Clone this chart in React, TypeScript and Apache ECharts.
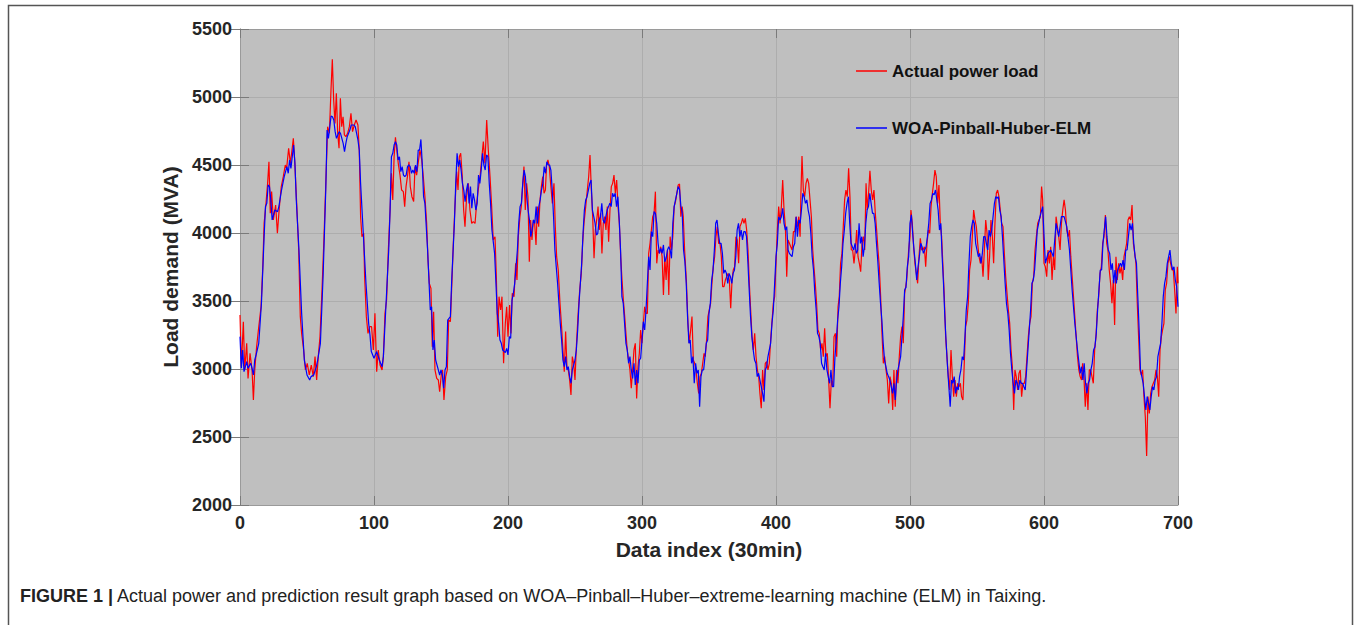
import React, { useEffect, useRef } from "react";
import * as echarts from "echarts";

// ---- data (index, MVA) ----
const actualLoad: [number, number][] = [
  [0,3397],[1,3017],[2.5,3348],[3.5,2993],[5,3189],[6,2931],[7.5,3115],[9,2993],[10,2772],[11,2993],[12.4,3164],[14,3311],[15.7,3458],[17,3752],[18,4071],[19.4,4218],[20.6,4365],[21.6,4524],[22.6,4145],[23.6,4304],[24.9,4096],[26.6,4206],[27.9,3998],[29.4,4194],[30.8,4341],[32.3,4414],[33.8,4500],[34.8,4475],[36.3,4623],[37.6,4512],[38.8,4610],[39.8,4696],[40.8,4537],[42.3,4218],[43.8,3875],[45,3385],[46,3262],[47.5,3140],[48.8,2993],[50.2,3042],[51.7,2956],[53.2,3029],[54.7,2944],[56,3091],[57.2,2919],[58.5,3103],[59.7,3238],[61.2,3581],[62.7,3973],[64.2,4414],[65.4,4782],[66.7,4733],[67.9,5051],[68.9,5277],[69.9,4978],[70.9,4806],[71.9,5027],[72.9,4733],[73.9,4623],[74.9,4990],[75.9,4782],[76.9,4855],[77.9,4721],[79,4708],[80.3,4733],[81.6,4782],[82.8,4880],[84,4745],[85.3,4794],[86.6,4831],[88,4794],[89,4610],[90,4120],[91,3973],[92.3,3998],[93,3679],[94.3,3385],[95.5,3262],[96.8,3311],
  [98.2,3311],[99.5,3140],[100.7,3409],[102,2980],[103.2,3140],[104.5,3029],[106,2993],[107,3091],[108.2,3409],[109.4,3507],[110.7,3875],[112,4169],[113,4439],[114,4243],[115,4561],[116,4703],[117,4610],[118.1,4512],[119.4,4426],[120.6,4316],[121.9,4304],[122.9,4194],[123.9,4341],[125.1,4426],[126.1,4524],[127.1,4341],[128.3,4267],[129.6,4231],[130.6,4488],[131.8,4426],[133.1,4524],[134.3,4610],[135.6,4537],[136.8,4414],[138,4267],[139.3,4071],[140.3,3801],[141.3,3630],[142.5,3593],[143.5,3164],[144.5,3421],[145.5,2993],[146.8,2931],[148,2919],[149,2833],[150.2,2956],[151.2,2993],[152.2,2772],[153.5,2944],[154.7,2993],[155.7,3360],[157,3348],[158.2,3654],[159.2,3924],[160.4,4194],[161.7,4451],[162.7,4316],[163.7,4561],[164.7,4586],[165.9,4414],[166.9,4169],[167.9,4047],[169.1,4267],[170.4,4365],[171.6,4169],[172.9,4071],[174.1,4084],[175.4,4071],[176.6,4218],[177.8,4316],[179.1,4414],[180.3,4537],[181.6,4672],[182.8,4512],[184.1,4831],[185.3,4610],[186.6,4414],[187.8,4194],[189,3949],[190.3,3973],[191.3,3679],[192.3,3238],[193.3,3532],[194.5,3434],[195.5,3532],[196.7,3042],
  [198,3336],[199,3458],[200,3238],[201.2,3471],[202.2,3262],[203.2,3556],[204.5,3532],[205.7,3777],[206.7,3654],[207.7,3973],[208.9,4120],[209.9,4194],[210.9,4341],[211.9,4488],[212.9,4169],[213.9,4365],[214.9,4267],[215.9,3789],[216.9,4096],[217.9,3949],[218.9,4096],[219.9,4071],[220.9,3912],[221.9,4194],[222.9,4047],[223.9,4243],[224.9,4341],[225.9,4414],[226.9,4292],[227.9,4316],[228.8,4500],[229.8,4537],[230.8,4488],[231.8,4365],[233.1,4218],[234.3,4365],[235.3,4047],[236.3,3826],[237.5,3728],[238.8,3483],[240,3311],[241,3140],[242,2980],[243,3275],[244,3017],[245,2993],[246,2919],[247,2809],[248,3091],[249,3042],[250,2919],[251,3164],[252.2,3385],[253.5,3581],[254.7,3703],[255.7,3924],[256.7,4071],[258,4194],[259.2,4316],[260.2,4414],[261.2,4574],[262.2,4316],[263.2,4120],[264.2,3814],[265.2,4022],[266.2,4096],[267.2,4194],[268.1,4022],[269.1,4145],[270.1,3850],[271.1,4071],[272.1,4120],[273.1,4022],[274.1,4194],[275.1,3936],[276.1,4169],[277.1,4341],[278.1,4365],[279.1,4426],[280.1,4292],[281.1,4390],[282.1,4194],[283.1,4071],[284.1,3826],[285.1,3654],[286.1,3507],[287.1,3385],[288,3262],[289,3140],[290,3066],[291,2993],[292,2858],[293,2993],[294,3140],[295,3189],[296,2784],[297,3017],
  [298,3115],[299,3287],[300,3189],[301,3336],[302,3458],[303,3409],[304,3409],[305,3850],[306,3924],[307,4022],[308,4120],[309,4145],[310,4304],[311,3777],[312,3875],[313,3850],[314,3899],[315,3826],[316,3544],[317,3826],[318,3654],[319,3875],[320,3544],[321,3973],[322,3875],[323,3973],[324,4194],[325,4231],[326,4292],[327,4353],[328,4360],[329,4120],[330,4194],[330.8,4120],[331.8,3875],[333.1,3654],[334.3,3336],[335.3,3189],[336.3,3287],[337.3,3385],[338.3,3066],[339.3,3042],[340.3,2993],[341.3,2895],[342.3,2821],[343.3,2944],[344.3,2968],[345.3,3042],[346.3,3115],[347.2,3091],[348.2,3213],[349.2,3385],[350.2,3434],[351.2,3483],[352.2,3630],[353.2,3752],[354.2,3826],[355.2,3973],[356.2,4047],[357.2,3924],[358.2,3924],[359.2,3826],[360.2,3605],[361.2,3605],[362.2,3654],[363.2,3679],[364.2,3703],[365.2,3654],[366.2,3446],[367.2,3654],[368.1,3728],[369.1,3752],[370.1,3973],[371.1,3949],[372.1,3777],[373.1,4047],[374.1,4071],[375.1,4108],[376.1,4071],[377.1,4108],[378.1,4022],[379.1,3875],[380.1,3630],[381.1,3434],[382.1,3238],[383.1,3140],[384.1,3262],[385.1,3091],[386.1,2993],[387.1,2944],[388,2821],[389,2711],[390,2993],[391,2846],[392,3042],[393,3054],[394,2993],[395,3042],[396,3213],
  [398,3483],[399,3532],[400,3777],[401,4022],[402,4194],[403,4071],[404,4194],[405,4390],[406,4169],[407,4047],[408,3679],[409,3949],[410,3924],[411,3899],[412,3875],[413,4010],[414,4010],[415,4120],[416,4047],[417,4120],[418,3973],[418.6,4292],[419.4,4566],[420.4,4316],[421.4,4267],[422.4,4365],[423.4,4402],[424.4,4365],[425.4,4243],[426.4,4120],[427.4,3875],[428.3,3752],[429.3,3630],[430.3,3483],[431.3,3287],[432.3,3262],[433.3,3140],[434.3,3189],[435.3,3091],[436.3,3299],[437.3,3091],[438.3,3115],[439.3,2919],[440.3,2711],[441.3,2919],[442.3,2870],[443.3,3238],[444.3,3262],[445.3,3091],[446.3,3458],[447.2,3532],[448.2,3777],[449.2,3850],[450.2,4047],[451.2,4243],[452.2,4316],[453.2,4267],[454.2,4475],[455.2,4267],[456.2,3875],[457.2,3875],[458.2,3777],[459.2,3875],[460.2,4022],[461.2,3826],[462.2,3777],[463.2,3716],[464.2,3924],[465.2,3973],[466.2,3875],[467.2,4365],[468.1,4169],[469.1,4292],[470.1,4458],[471.1,4316],[472.1,4243],[473.1,4316],[474.1,4145],[475.1,4022],[476.1,3875],[477.1,3752],[478.1,3532],[479.1,3262],[480.1,3042],[481.1,3091],[482.1,2993],[483.1,2919],[484.1,2747],[485.1,2944],[486.1,2895],[487.1,2699],[488,2993],[489,2723],[490,2993],[491,2895],[492,3091],[493,3238],[494,3311],[495,3189],[496,3556],
  [497.5,3650],[499,3875],[500,3973],[500.7,4169],[501.7,4071],[502.7,3899],[503.7,3777],[504.7,3703],[505.7,3630],[506.7,3826],[507.7,3961],[508.7,3875],[509.7,3875],[510.7,3899],[511.7,3752],[512.7,3924],[513.7,4022],[514.7,3998],[515.7,4194],[516.7,4292],[517.6,4365],[518.6,4463],[519.6,4414],[520.6,4218],[521.6,4353],[522.6,4071],[523.6,3973],[524.6,3752],[525.6,3532],[526.6,3238],[527.6,3091],[528.6,2944],[529.6,2846],[530.6,3140],[531.6,2944],[532.6,2797],[533.6,2919],[534.6,2797],[535.6,2895],[536.6,2870],[537.6,2895],[538.5,2797],[539.5,2772],[540.5,3042],[541.5,3311],[542.5,3360],[543.5,3483],[544.5,3728],[545.5,3801],[546.5,3973],[547.5,4169],[548.5,4096],[549.5,4047],[550.5,3924],[551.5,3826],[552.5,3777],[553.5,3826],[554.5,3679],[555.5,3875],[556.5,4096],[557.5,3998],[558.4,3654],[559.4,3826],[560.4,4096],[561.4,3985],[562.4,3777],[563.4,4071],[564.4,4292],[565.4,4316],[566.4,4267],[567.4,4169],[568.4,4071],[569.4,4047],[570.4,3850],[571.4,3679],[572.4,3556],[573.4,3434],[574.4,3336],[575.4,3140],[576.4,3017],[577.4,2699],[578.3,2993],[579.3,2944],[580.3,2846],[581.3,2968],[582.3,2993],[583.3,2797],[584.3,2895],[585.3,2895],[586.3,2944],[587.3,3091],[588.3,3238],[589.3,3336],[590.3,3385],[591.3,3630],[592.3,3679],[593.3,3875],[594.3,3973],[595.3,4071],[596.3,4096],
  [597.3,4120],[598.2,4341],[599,4243],[600,3777],[601,3752],[602,3679],[603,3875],[604,3777],[605,3899],[606,3654],[607,3826],[608,3728],[609,4120],[610,4047],[611,3973],[612,3875],[613,4071],[614,4169],[615,4243],[616,4169],[617,4022],[618,3973],[619,4022],[620,3826],[621,3679],[622,3532],[623,3385],[624,3238],[625,3091],[626,2993],[627,2944],[628,2919],[628.8,3042],[629.8,2944],[630.8,2723],[631.8,2895],[632.8,2699],[633.8,2993],[634.8,2993],[635.8,2944],[636.8,2895],[637.8,3140],[638.8,3238],[639.8,3434],[640.8,3532],[641.8,3703],[642.8,3752],[643.8,3924],[644.8,3973],[645.8,4133],[646.8,3924],[647.7,3875],[648.7,3728],[649.7,3630],[650.7,3483],[651.7,3654],[652.7,3323],[653.7,3826],[654.7,3654],[655.7,3777],[656.7,3703],[657.7,3752],[658.7,3654],[659.7,3826],[660.7,3875],[661.7,3924],[662.7,4096],[663.7,4120],[664.7,4096],[665.7,4206],[666.7,3924],[667.7,3850],[668.6,3777],[669.6,3483],[670.6,3238],[671.6,2993],[672.6,2956],[673.6,2993],[674.6,2797],[675.6,2650],[676.6,2360],[677.6,2797],[678.6,2674],[679.6,2821],[680.6,2870],[681.6,2895],[682.6,2919],[683.6,2993],[684.6,2944],[685.6,2797],[686.6,3140],[687.6,3238],[688.5,3287],[689.5,3336],[690.5,3581],[691.5,3630],[692.5,3777],[693.5,3826],[694.5,3777],[695.5,3728],[696.5,3728],[697.5,3581],[698.5,3409],[699.5,3752],[700,3630],
];

const predictedLoad: [number, number][] = [
  [0,3238],[1,3005],[2,3140],[3,2980],[5,3054],[6,3005],[8,3042],[9,3005],[10,2956],[11,3066],[12,3103],[14,3189],[16,3483],[18,3973],[19,4194],[20,4218],[21,4353],[22,4341],[23,4243],[24,4096],[26,4169],[28,4157],[29,4194],[31,4316],[33,4414],[35,4488],[36,4439],[37,4537],[38,4475],[39,4561],[40,4647],[41,4512],[42,4243],[44,3875],[46,3409],[48,3066],[50,2956],[52,2919],[53,2944],[55,2956],[57,3017],[58,3066],[60,3189],[62,3679],[64,4316],[65,4757],[66,4696],[67,4782],[68,4860],[69,4855],[70,4831],[71,4745],[72,4696],[73,4721],[74,4745],[75,4733],[77,4659],[78,4598],[79,4659],[80,4708],[82,4757],[83,4794],[85,4794],[86,4782],[88,4684],[89,4610],[90,4365],[92,3998],[94,3630],[96,3336],
  [97,3250],[98,3128],[100,3079],[102,3128],[104,3066],[106,3017],[107,3091],[109,3483],[111,3875],[112,4169],[113,4561],[114,4586],[115,4647],[116,4672],[117,4647],[118,4537],[119,4561],[120,4451],[121,4488],[122,4426],[123,4414],[124,4426],[125,4488],[126,4500],[127,4488],[128,4439],[129,4463],[130,4439],[131,4500],[132,4451],[133,4610],[134,4610],[135,4688],[136,4512],[137,4267],[138,4218],[140,3875],[142,3434],[143,3458],[144,3140],[145,3213],[146,3066],[148,2993],[149,2956],[150,2993],[151,2956],[152,2858],[153,2993],[154,3017],[155,3360],[157,3385],[158,3654],[160,4071],[161,4365],[162,4586],[163,4488],[164,4537],[165,4463],[166,4365],[167,4316],[168,4231],[169,4316],[170,4365],[171,4218],[172,4341],[173,4182],[174,4292],[175,4243],[176,4169],[177,4218],[178,4426],[179,4365],[180,4463],[181,4586],[182,4500],[183,4463],[184,4574],[185,4561],[186,4365],[187,4218],[188,4022],[190,3850],[191,3630],[192,3409],[193,3336],[194,3213],[195,3189],[196,3140],
  [198,3120],[199,3152],[200,3103],[201,3238],[202,3226],[203,3507],[204,3556],[205,3630],[206,3752],[207,3875],[208,4071],[209,4194],[210,4218],[211,4365],[212,4463],[213,4414],[214,4267],[215,4169],[216,4096],[217,3973],[218,4022],[219,4096],[220,4071],[221,4194],[222,4071],[223,4194],[224,4243],[225,4316],[226,4365],[227,4488],[228,4439],[229,4524],[230,4500],[231,4500],[232,4463],[233,4316],[234,4120],[235,3875],[236,3752],[237,3630],[238,3483],[239,3336],[240,3213],[241,3066],[242,3017],[243,3091],[244,2993],[245,3017],[246,2944],[247,2895],[248,2993],[249,3029],[250,3066],[251,3140],[252,3287],[253,3483],[254,3630],[255,3777],[256,3998],[257,4169],[258,4243],[259,4267],[260,4316],[261,4365],[262,4390],[263,4169],[264,4120],[265,4071],[266,3985],[267,3998],[268,4096],[269,4120],[270,4218],[271,4096],[272,4071],[273,4120],[274,4169],[275,4194],[276,4218],[277,4194],[278,4292],[279,4267],[280,4292],[281,4194],[282,4267],[283,4096],[284,3875],[285,3532],[286,3483],[287,3336],[288,3189],[289,3140],[290,3042],[291,3091],[292,2993],[293,2931],[294,3042],[295,2883],[296,2993],
  [297,2895],[298,3066],[299,3079],[300,3213],[301,3348],[302,3287],[303,3434],[304,3630],[305,3826],[306,3728],[307,4010],[308,3973],[309,4157],[310,4145],[311,4071],[312,3924],[313,3850],[314,3887],[315,3850],[316,3912],[317,3789],[318,3814],[319,3875],[320,3899],[321,3875],[322,3814],[323,4071],[324,4194],[325,4243],[326,4292],[327,4341],[328,4320],[329,4200],[330,4150],[331,3875],[332,3789],[333,3630],[334,3385],[335,3189],[336,3213],[337,3042],[338,3091],[339,2895],[340,3042],[341,2968],[342,2993],[343,2723],[344,2944],[345,2993],[346,2993],[347,3091],[348,3189],[349,3213],[350,3409],[351,3483],[352,3654],[353,3728],[354,3875],[355,4071],[356,4096],[357,3998],[358,3924],[359,3924],[360,3850],[361,3703],[362,3728],[363,3703],[364,3630],[365,3703],[366,3679],[367,3630],[368,3703],[369,3728],[370,3826],[371,4022],[372,4071],[373,3973],[374,4022],[375,3949],[376,4010],[377,4010],[378,3973],[379,3789],[380,3581],[381,3385],[382,3238],[383,3140],[384,3066],[385,3042],[386,2944],[387,2968],[388,2919],[389,2870],[390,2821],[391,2760],[392,2993],[393,3017],[394,3091],[395,3140],[396,3189],[397,3336],
  [398,3434],[399,3630],[400,3826],[401,3924],[402,4120],[403,4096],[404,4120],[405,4182],[406,4071],[407,4022],[408,4047],[409,3875],[410,3850],[411,3838],[412,3826],[413,3899],[414,3924],[415,4120],[416,3973],[417,4096],[418,4071],[419,4169],[420,4292],[421,4267],[422,4218],[423,4243],[424,4169],[425,4120],[426,3998],[427,3826],[428,3728],[429,3556],[430,3434],[431,3262],[432,3238],[433,3189],[434,3042],[435,3017],[436,2993],[437,3115],[438,2993],[439,2944],[440,2895],[441,2993],[442,2870],[443,2870],[444,3091],[445,3213],[446,3360],[447,3458],[448,3630],[449,3752],[450,3924],[451,4022],[452,4145],[453,4218],[454,4267],[455,4071],[456,3924],[457,3899],[458,3875],[459,3924],[460,3850],[461,3875],[462,4071],[463,3924],[464,3973],[465,3826],[466,3899],[467,4071],[468,4169],[469,4194],[470,4292],[471,4218],[472,4145],[473,4145],[474,4071],[475,3924],[476,3789],[477,3630],[478,3483],[479,3360],[480,3189],[481,3066],[482,3017],[483,2968],[484,2944],[485,2919],[486,2870],[487,2821],[488,2895],[489,2772],[490,2919],[491,2993],[492,3042],[493,3091],[494,3238],[495,3385],[496,3581],
  [497,3600],[498,3752],[499,3826],[500,4071],[501,4133],[502,3998],[503,3875],[504,3777],[505,3654],[506,3752],[507,3826],[508,3924],[509,3899],[510,3850],[511,3875],[512,3899],[513,3973],[514,4071],[515,4218],[516,4243],[517,4292],[518,4280],[519,4316],[520,4243],[521,4169],[522,4022],[523,4071],[524,3826],[525,3630],[526,3385],[527,3189],[528,3017],[529,2870],[530,2723],[531,2919],[532,2895],[533,2944],[534,2821],[535,2870],[536,2846],[537,2944],[538,2993],[539,3091],[540,3066],[541,3238],[542,3434],[543,3532],[544,3777],[545,3973],[546,4047],[547,4096],[548,4071],[549,3924],[550,3875],[551,3826],[552,3850],[553,3777],[554,3850],[555,3973],[556,3973],[557,3924],[558,3875],[559,4022],[560,3973],[561,4022],[562,4120],[563,4218],[564,4267],[565,4255],[566,4267],[567,4169],[568,4120],[569,3973],[570,3801],[571,3630],[572,3483],[573,3409],[574,3287],[575,3115],[576,2993],[577,2895],[578,2821],[579,2919],[580,2895],[581,2846],[582,2919],[583,2895],[584,2895],[585,2870],[586,2846],[587,2993],[588,3140],[589,3287],[590,3434],[591,3630],[592,3654],[593,3728],[594,3875],[595,4022],[596,4071],
  [597,4120],[599,4194],[601,3777],[603,3850],[605,3875],[607,3826],[609,4071],[611,3973],[613,4120],[615,4120],[617,4047],[619,3875],[621,3581],[623,3336],[625,3140],[627,2968],[628,3017],[629,2919],[630,3042],[631,2895],[632,2821],[633,2895],[634,2919],[635,2993],[636,3042],[637,3140],[638,3164],[639,3262],[640,3434],[641,3581],[642,3728],[643,3728],[644,3924],[645,4022],[646,4120],[647,3973],[648,3875],[649,3850],[650,3728],[651,3777],[652,3630],[653,3728],[654,3630],[655,3728],[656,3752],[657,3777],[658,3752],[659,3801],[660,3728],[661,3875],[662,3875],[663,3973],[664,4071],[665,4022],[666,4071],[667,3924],[668,3826],[669,3777],[670,3532],[671,3287],[672,2993],[673,2944],[674,2895],[675,2797],[676,2699],[677,2797],[678,2747],[679,2699],[680,2797],[681,2870],[682,2846],[683,2919],[684,2944],[685,3091],[686,3140],[687,3189],[688,3336],[689,3532],[690,3630],[691,3679],[692,3777],[693,3826],[694,3875],[695,3777],[696,3728],[697,3752],[698,3654],[699,3605],[700,3458],
];

const seriesNames = ["Actual power load", "WOA-Pinball-Huber-ELM"];
const xTitle = "Data index (30min)";
const yTitle = "Load demand (MVA)";
const captionBold = "FIGURE 1 |";
const captionText =
  " Actual power and prediction result graph based on WOA–Pinball–Huber–extreme-learning machine (ELM) in Taixing.";

const FONT = "'Liberation Sans', Arial, Helvetica, sans-serif";

export default function App() {
  const ref = useRef<HTMLDivElement>(null);
  useEffect(() => {
    if (!ref.current) return;
    const chart = echarts.init(ref.current, null, { renderer: "svg" });
    const tickStyle = { show: true, inside: true, length: 9, lineStyle: { color: "#7a7a7a", width: 1 } };
    const lineStyle = { show: true, lineStyle: { color: "#9a9a9a", width: 1 } };
    const labelStyle = {
      color: "#262626", fontSize: 18, fontWeight: "bold" as const, fontFamily: FONT,
      formatter: (v: number) => String(v),
    };
    const nameStyle = { color: "#262626", fontSize: 21, fontWeight: "bold" as const, fontFamily: FONT };
    const split = { show: true, lineStyle: { color: "#adadad", width: 1 } };
    chart.setOption({
      animation: false,
      textStyle: { fontFamily: FONT },
      grid: {
        left: 240, top: 29, width: 938, height: 476,
        show: true, backgroundColor: "#bfbfbf", borderWidth: 0,
      },
      legend: {
        orient: "vertical",
        left: 856,
        top: 61,
        padding: 0,
        icon: "rect",
        itemWidth: 31,
        itemHeight: 1.5,
        itemGap: 37,
        data: seriesNames,
        textStyle: { color: "#111", fontSize: 17, fontWeight: "bold", fontFamily: FONT, lineHeight: 20 },
      },
      xAxis: [
        {
          type: "value", min: 0, max: 700, interval: 100, position: "bottom",
          axisLine: lineStyle, axisTick: tickStyle,
          axisLabel: { ...labelStyle, margin: 9 },
          splitLine: split,
          name: xTitle, nameLocation: "middle", nameGap: 34, nameTextStyle: nameStyle,
        },
        {
          type: "value", min: 0, max: 700, interval: 100, position: "top",
          axisLine: lineStyle, axisTick: tickStyle,
          axisLabel: { show: false }, splitLine: { show: false },
        },
      ],
      yAxis: [
        {
          type: "value", min: 2000, max: 5500, interval: 500, position: "left",
          axisLine: lineStyle, axisTick: tickStyle,
          axisLabel: { ...labelStyle, margin: 8 },
          splitLine: split,
          name: yTitle, nameLocation: "middle", nameGap: 44, nameTextStyle: nameStyle,
        },
        {
          type: "value", min: 2000, max: 5500, interval: 500, position: "right",
          axisLine: lineStyle, axisTick: tickStyle,
          axisLabel: { show: false }, splitLine: { show: false },
        },
      ],
      series: [
        {
          name: seriesNames[0], type: "line", data: actualLoad,
          showSymbol: false, symbol: "none",
          lineStyle: { color: "#ff0000", width: 1.2 }, itemStyle: { color: "#ff0000" },
          z: 2,
        },
        {
          name: seriesNames[1], type: "line", data: predictedLoad,
          showSymbol: false, symbol: "none",
          lineStyle: { color: "#0000ff", width: 1.2 }, itemStyle: { color: "#0000ff" },
          z: 3,
        },
      ],
      graphic: [
        {
          type: "polyline",
          shape: { points: [[8.5, 626], [8.5, 5.5], [1352.5, 5.5], [1352.5, 626]] },
          style: { stroke: "#555555", lineWidth: 1.5, fill: null },
          silent: true,
        },
        {
          type: "text",
          left: 20,
          top: 587,
          style: {
            text: `{b|${captionBold}}{r|${captionText}}`,
            rich: {
              b: { fontFamily: FONT, fontSize: 18, fontWeight: "bold", fill: "#222" },
              r: { fontFamily: FONT, fontSize: 18, fill: "#222" },
            },
          },
        },
      ],
    });
    return () => chart.dispose();
  }, []);
  return (
    <div
      ref={ref}
      style={{ position: "fixed", left: 0, top: 0, width: 1354, height: 625, background: "#fff" }}
    />
  );
}
